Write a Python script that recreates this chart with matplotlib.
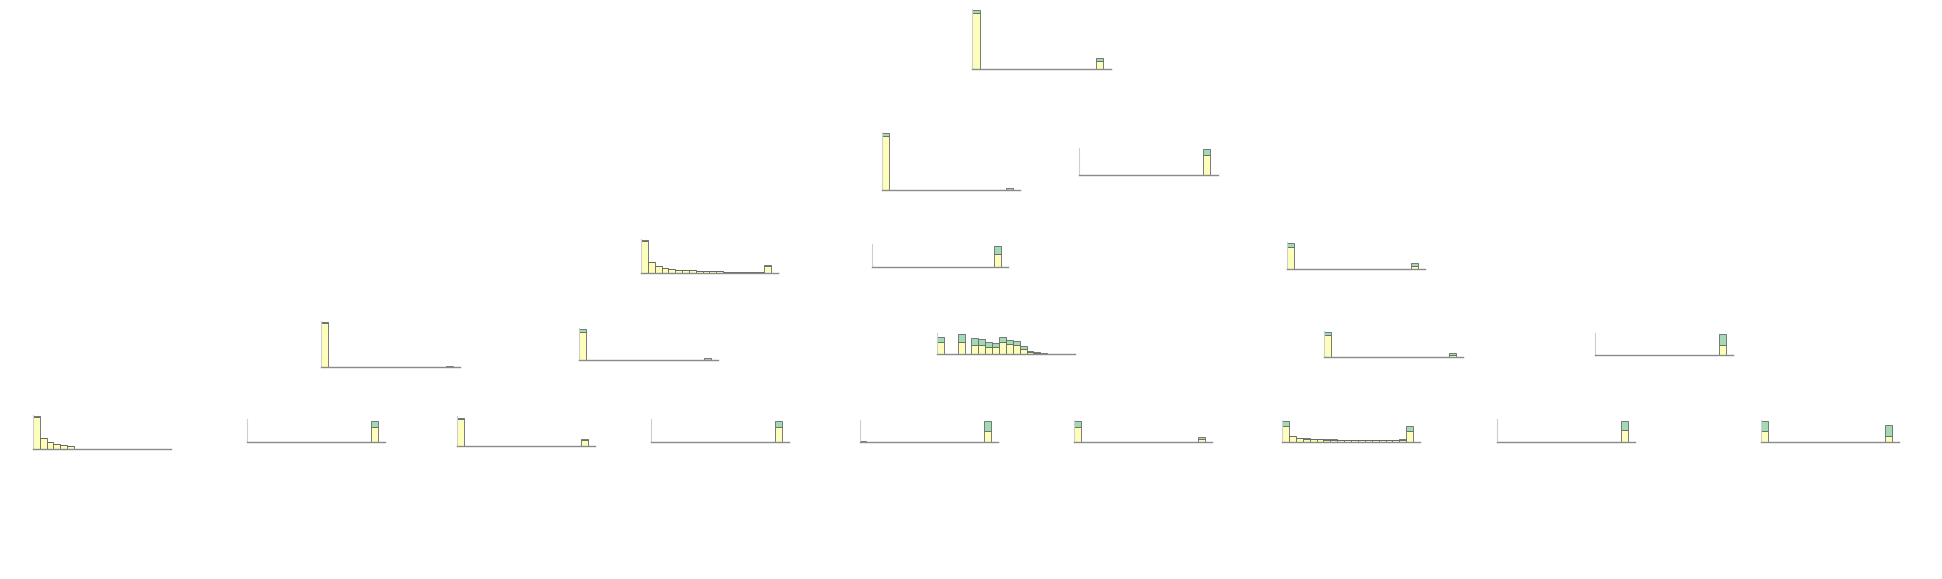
import matplotlib
matplotlib.use("Agg")
import matplotlib.pyplot as plt
import numpy as np

W, H = 1942, 579
YELLOW = "#fefebb"
GREEN = "#a1dab4"
EDGE = "#666666"

# ---- data: per node, class counts per histogram bin (class 0 = yellow, class 1 = green)
n0_yellow = [56, 0, 0, 0, 0, 0, 0, 0, 0, 0, 0, 0, 0, 0, 0, 0, 0, 8.6, 0]
n0_green = [3, 0, 0, 0, 0, 0, 0, 0, 0, 0, 0, 0, 0, 0, 0, 0, 0, 2.7, 0]

n1_yellow = [54.6, 0, 0, 0, 0, 0, 0, 0, 0, 0, 0, 0, 0, 0, 0, 0, 0, 0, 0.8, 0]
n1_green = [2.4, 0, 0, 0, 0, 0, 0, 0, 0, 0, 0, 0, 0, 0, 0, 0, 0, 0, 1.5, 0]

n2_yellow = [0, 0, 0, 0, 0, 0, 0, 0, 0, 0, 0, 0, 0, 0, 0, 0, 0, 20.3, 0]
n2_green = [0, 0, 0, 0, 0, 0, 0, 0, 0, 0, 0, 0, 0, 0, 0, 0, 0, 5.4, 0]

n3_yellow = [32.6, 11.3, 7.3, 5.3, 4.3, 3.7, 3, 3, 2.3, 2, 2, 2, 1.2, 1.2, 1.2, 1.2, 1.2, 1.2, 7.2, 0]
n3_green = [0.4, 0, 0, 0, 0, 0, 0, 0, 0, 0, 0, 0, 0.5, 0.5, 0.5, 0.5, 0.5, 0.5, 0.8, 0]

n4_yellow = [0, 0, 0, 0, 0, 0, 0, 0, 0, 0, 0, 0, 0, 0, 0, 0, 0, 0, 13.3, 0]
n4_green = [0, 0, 0, 0, 0, 0, 0, 0, 0, 0, 0, 0, 0, 0, 0, 0, 0, 0, 7.7, 0]

n5_yellow = [21.4, 0, 0, 0, 0, 0, 0, 0, 0, 0, 0, 0, 0, 0, 0, 0, 0, 0, 3, 0]
n5_green = [4, 0, 0, 0, 0, 0, 0, 0, 0, 0, 0, 0, 0, 0, 0, 0, 0, 0, 2.4, 0]

n6_yellow = [44, 0, 0, 0, 0, 0, 0, 0, 0, 0, 0, 0, 0, 0, 0, 0, 0, 0, 0.3, 0]
n6_green = [1.3, 0, 0, 0, 0, 0, 0, 0, 0, 0, 0, 0, 0, 0, 0, 0, 0, 0, 1.0, 0]

n7_yellow = [28.3, 0, 0, 0, 0, 0, 0, 0, 0, 0, 0, 0, 0, 0, 0, 0, 0, 0, 0.5, 0]
n7_green = [2.4, 0, 0, 0, 0, 0, 0, 0, 0, 0, 0, 0, 0, 0, 0, 0, 0, 0, 1.2, 0]

n8_yellow = [11.7, 0, 0, 11.7, 0, 8.7, 8.7, 7, 7, 11.7, 9.7, 8.7, 5, 2, 1, 0.5, 0, 0, 0, 0]
n8_green = [5.7, 0, 0, 8, 0, 7, 6, 4.7, 3.7, 5, 4, 4, 2.7, 1, 0.7, 0.5, 0, 0, 0, 0]

n9_yellow = [22, 0, 0, 0, 0, 0, 0, 0, 0, 0, 0, 0, 0, 0, 0, 0, 0, 0, 2, 0]
n9_green = [3, 0, 0, 0, 0, 0, 0, 0, 0, 0, 0, 0, 0, 0, 0, 0, 0, 0, 2, 0]

n10_yellow = [0, 0, 0, 0, 0, 0, 0, 0, 0, 0, 0, 0, 0, 0, 0, 0, 0, 0, 10.3, 0]
n10_green = [0, 0, 0, 0, 0, 0, 0, 0, 0, 0, 0, 0, 0, 0, 0, 0, 0, 0, 10.4, 0]

n11_yellow = [32, 10.7, 6.7, 5, 4, 3, 0, 0, 0, 0, 0, 0, 0, 0, 0, 0, 0, 0, 0, 0]
n11_green = [0.7, 0, 0, 0, 0, 0, 0, 0, 0, 0, 0, 0, 0, 0, 0, 0, 0, 0, 0, 0]

n12_yellow = [0, 0, 0, 0, 0, 0, 0, 0, 0, 0, 0, 0, 0, 0, 0, 0, 0, 0, 14.9, 0]
n12_green = [0, 0, 0, 0, 0, 0, 0, 0, 0, 0, 0, 0, 0, 0, 0, 0, 0, 0, 6.2, 0]

n13_yellow = [27.5, 0, 0, 0, 0, 0, 0, 0, 0, 0, 0, 0, 0, 0, 0, 0, 0, 0, 5.9, 0]
n13_green = [1, 0, 0, 0, 0, 0, 0, 0, 0, 0, 0, 0, 0, 0, 0, 0, 0, 0, 1.5, 0]

n14_yellow = [0, 0, 0, 0, 0, 0, 0, 0, 0, 0, 0, 0, 0, 0, 0, 0, 0, 0, 14.9, 0]
n14_green = [0, 0, 0, 0, 0, 0, 0, 0, 0, 0, 0, 0, 0, 0, 0, 0, 0, 0, 6.2, 0]

n15_yellow = [0.5, 0, 0, 0, 0, 0, 0, 0, 0, 0, 0, 0, 0, 0, 0, 0, 0, 0, 11, 0]
n15_green = [1.0, 0.3, 0.3, 0.3, 0.3, 0.3, 0.3, 0.3, 0.3, 0.3, 0.3, 0.3, 0.3, 0.3, 0.3, 0.3, 0.3, 0.3, 10, 0]

n16_yellow = [15, 0, 0, 0, 0, 0, 0, 0, 0, 0, 0, 0, 0, 0, 0, 0, 0, 0, 3, 0]
n16_green = [6, 0, 0, 0, 0, 0, 0, 0, 0, 0, 0, 0, 0, 0, 0, 0, 0, 0, 2, 0]

n17_yellow = [16, 6, 4, 3.5, 3, 2.8, 2.5, 2.3, 2.2, 2, 2, 1.8, 1.6, 1.8, 2, 2, 2, 2.5, 11, 0]
n17_green = [5, 0.5, 0.3, 0.3, 0.3, 0.3, 0.3, 0.3, 0.3, 0.3, 0.3, 0.3, 0.3, 0.3, 0.3, 0.3, 0.3, 0.5, 5, 0]

n18_yellow = [0, 0, 0, 0, 0, 0, 0, 0, 0, 0, 0, 0, 0, 0, 0, 0, 0, 0, 12.4, 0]
n18_green = [0, 0, 0, 0, 0, 0, 0, 0, 0, 0, 0, 0, 0, 0, 0, 0, 0, 0, 8.7, 0]

n19_yellow = [11, 0, 0, 0, 0, 0, 0, 0, 0, 0, 0, 0, 0, 0, 0, 0, 0, 0, 6.2, 0]
n19_green = [10, 0, 0, 0, 0, 0, 0, 0, 0, 0, 0, 0, 0, 0, 0, 0, 0, 0, 11, 0]

node_yellow = [n0_yellow, n1_yellow, n2_yellow, n3_yellow, n4_yellow, n5_yellow, n6_yellow,
               n7_yellow, n8_yellow, n9_yellow, n10_yellow, n11_yellow, n12_yellow, n13_yellow,
               n14_yellow, n15_yellow, n16_yellow, n17_yellow, n18_yellow, n19_yellow]
node_green = [n0_green, n1_green, n2_green, n3_green, n4_green, n5_green, n6_green,
              n7_green, n8_green, n9_green, n10_green, n11_green, n12_green, n13_green,
              n14_green, n15_green, n16_green, n17_green, n18_green, n19_green]

# ---- layout (pixels): left, baseline y, width
node_left = [972.3, 882.3, 1079.3, 641, 871.7, 1287.3, 321.3, 579.3, 937, 1324.3, 1595.3,
             32.7, 246.5, 457, 651, 859.5, 1074, 1282, 1497, 1761]
node_base = [69.3, 190.3, 175, 273.3, 267, 268.7, 367.3, 360, 354, 357.3, 355,
             449, 442, 446, 442, 442, 442, 442, 442, 442]
node_width = [138.4, 137.7, 138.4, 136.7, 136, 137.7, 138.7, 138.4, 137.7, 138.4, 137.4,
              138, 138, 138, 138, 138, 138, 138, 138, 138]

fig = plt.figure(figsize=(W / 100, H / 100), dpi=100)
fig.patch.set_facecolor("white")

for yv, gv, left, base, wid in zip(node_yellow, node_green, node_left, node_base, node_width):
    yv = np.array(yv, dtype=float)
    gv = np.array(gv, dtype=float)
    n = len(yv)
    tot_max = (yv + gv).max()
    hgt = tot_max + 1.5
    ax = fig.add_axes([left / W, (H - base) / H, wid / W, hgt / H])
    x = np.arange(n)
    ax.bar(x, yv, width=1.0, align="edge", color=YELLOW, edgecolor=EDGE, linewidth=0.6)
    ax.bar(x, gv, width=1.0, bottom=yv, align="edge", color=GREEN, edgecolor=EDGE, linewidth=0.6)
    ax.set_xlim(0, n)
    ax.set_ylim(0, hgt)
    ax.set_xticks([])
    ax.set_yticks([])
    for s in ("top", "right"):
        ax.spines[s].set_visible(False)
    ax.spines["bottom"].set_color("#8a8a8a")
    ax.spines["bottom"].set_linewidth(1.0)
    ax.spines["left"].set_color("#cfcfcf")
    ax.spines["left"].set_linewidth(0.8)
    ax.patch.set_alpha(0)

fig.savefig("out.png", dpi=100, facecolor="white")
